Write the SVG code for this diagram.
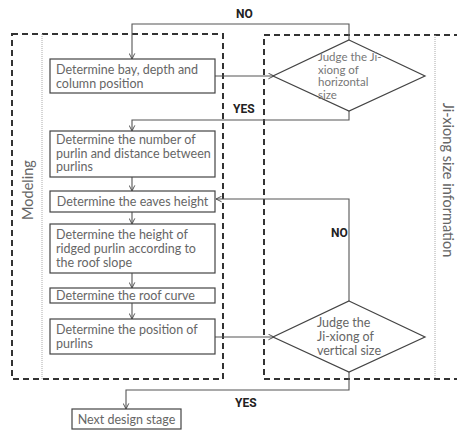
<svg xmlns="http://www.w3.org/2000/svg" width="457" height="432" viewBox="0 0 457 432">
<defs>
<marker id="arr" viewBox="0 0 10 10" refX="9" refY="5" markerWidth="7" markerHeight="7" markerUnits="userSpaceOnUse" orient="auto">
<path d="M1,1 L9,5 L1,9" fill="none" stroke="#444" stroke-width="1.3"/>
</marker>
<style>
.frame{fill:none;stroke:#333;stroke-width:2;stroke-dasharray:6,4}
.dot{fill:none;stroke:#aaa;stroke-width:1;stroke-dasharray:1,1}
.box{fill:#fff;stroke:#444;stroke-width:1.2}
.t{font-family:Lato,"Noto Sans",sans-serif;font-size:12.5px;fill:#666}
.td{font-family:Lato,"Noto Sans",sans-serif;font-size:11.5px;fill:#777}
.side{font-family:Lato,"Noto Sans",sans-serif;font-size:14.5px;fill:#666}
.lbl{font-family:Roboto,"Liberation Sans",sans-serif;font-size:12px;font-weight:bold;fill:#222}
.c{fill:none;stroke:#555;stroke-width:1.1;marker-end:url(#arr)}
</style>
</defs>
<g id="frames">
<rect class="frame" x="12" y="34" width="211" height="345"/>
<line class="dot" x1="42" y1="34" x2="42" y2="379"/>
<path class="frame" d="M460,35 H264 V379 H460"/>
<line class="dot" x1="435" y1="35" x2="435" y2="379"/>
<text class="side" transform="translate(33,190) rotate(-90)" text-anchor="middle">Modeling</text>
<text class="side" transform="translate(443,180) rotate(90)" text-anchor="middle">Ji-xiong size information</text>
</g>
<g id="connectors">
<path class="c" d="M349,40 V24 H132 V59"/>
<path class="c" d="M349,111 V120 H132 V131"/>
<path class="c" d="M215,76 H274"/>
<path class="c" d="M132,177 V191"/>
<path class="c" d="M132,212 V224"/>
<path class="c" d="M132,273 V288"/>
<path class="c" d="M132,303 V319"/>
<path class="c" d="M215,337 H274"/>
<path class="c" d="M349,301 V199 H216"/>
<path class="c" d="M349,372 V390 H126 V409"/>
<text class="lbl" x="236" y="18">NO</text>
<text class="lbl" x="233" y="113">YES</text>
<text class="lbl" x="331" y="237">NO</text>
<text class="lbl" x="235" y="407">YES</text>
</g>
<g id="n1">
<rect class="box" x="50" y="59" width="165" height="34"/>
<text class="t" x="56" y="74">Determine bay, depth and</text>
<text class="t" x="56" y="87.5">column position</text>
</g>
<g id="n2">
<rect class="box" x="50" y="131" width="165" height="46"/>
<text class="t" x="56" y="144">Determine the number of</text>
<text class="t" x="56" y="157.5">purlin and distance between</text>
<text class="t" x="56" y="171">purlins</text>
</g>
<g id="n3">
<rect class="box" x="50" y="191" width="165" height="21"/>
<text class="t" x="132.5" y="205.5" text-anchor="middle">Determine the eaves height</text>
</g>
<g id="n4">
<rect class="box" x="50" y="224" width="165" height="49"/>
<text class="t" x="56" y="238.5">Determine the height of</text>
<text class="t" x="56" y="253">ridged purlin according to</text>
<text class="t" x="56" y="267">the roof slope</text>
</g>
<g id="n5">
<rect class="box" x="50" y="288" width="165" height="15"/>
<text class="t" x="56" y="299.5">Determine the roof curve</text>
</g>
<g id="n6">
<rect class="box" x="50" y="319" width="165" height="35"/>
<text class="t" x="56" y="334">Determine the position of</text>
<text class="t" x="56" y="347.5">purlins</text>
</g>
<g id="d1">
<polygon class="box" points="349,40 425,76 349,111 273,76"/>
<text class="td" x="318" y="61">Judge the Ji-</text>
<text class="td" x="318" y="73.5">xiong of</text>
<text class="td" x="318" y="86">horizontal</text>
<text class="td" x="318" y="98.5">size</text>
</g>
<g id="d2">
<polygon class="box" points="349,301 425,337 349,372 273,337"/>
<text class="t" x="317" y="327">Judge the</text>
<text class="t" x="317" y="341">Ji-xiong of</text>
<text class="t" x="317" y="355">vertical size</text>
</g>
<g id="n7">
<rect class="box" x="72" y="409" width="109" height="20"/>
<text class="t" x="126.5" y="423.5" text-anchor="middle">Next design stage</text>
</g>
</svg>
